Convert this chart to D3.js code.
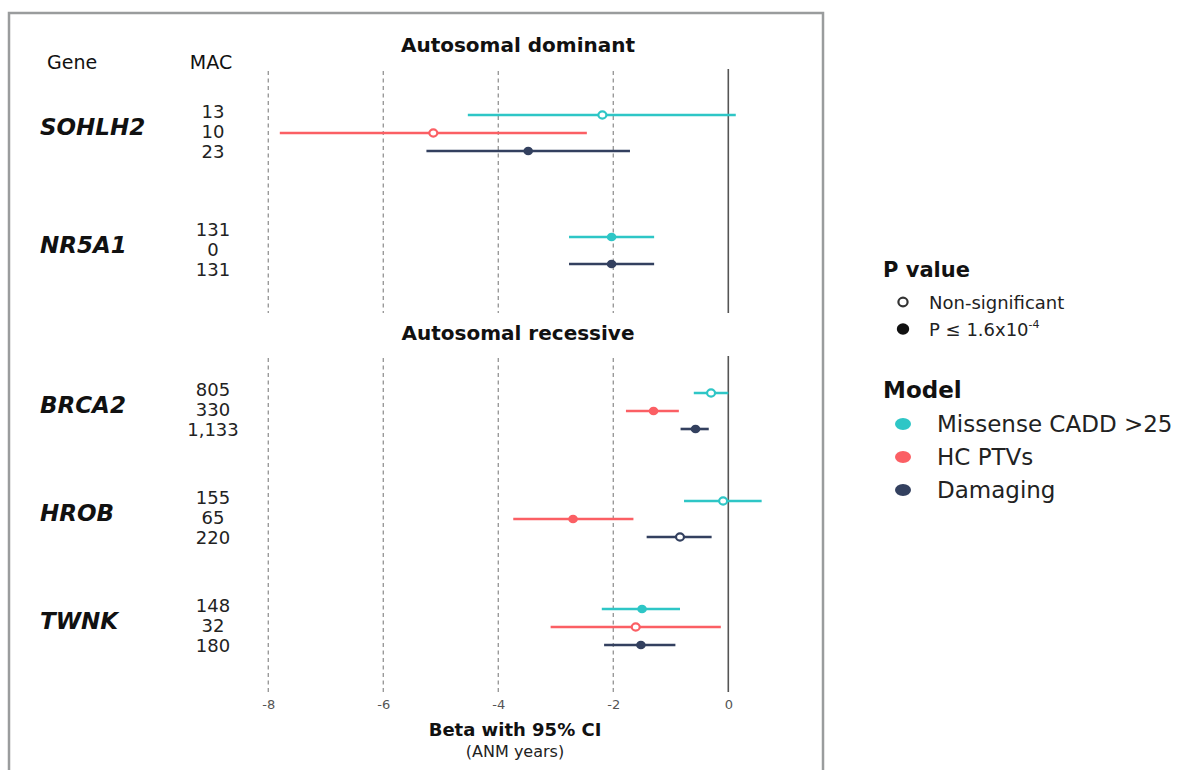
<!DOCTYPE html>
<html>
<head>
<meta charset="utf-8">
<script src="https://cdn.jsdelivr.net/npm/d3@7"></script>
<style>
  body { margin: 0; background: #fff; }
  svg { display: block; font-family: "DejaVu Sans", sans-serif; }
</style>
</head>
<body>
<svg id="chart" width="1195" height="770"></svg>
<script>
// ---- data -------------------------------------------------------------
const genes = ["SOHLH2", "NR5A1", "BRCA2", "HROB", "TWNK"];
const inheritance = ["Autosomal dominant", "Autosomal dominant",
                     "Autosomal recessive", "Autosomal recessive", "Autosomal recessive"];
const panels = ["Autosomal dominant", "Autosomal recessive"];

const models = ["Missense CADD >25", "HC PTVs", "Damaging"];
const modelColors = ["#2ec6c6", "#fb5f64", "#33405f"];

// minor allele counts per gene, one list per model
const macMissense = [13, 131, 805, 155, 148];
const macPTV      = [10, 0, 330, 65, 32];
const macDamaging = [23, 131, 1133, 220, 180];

// effect estimates (ANM years) with 95% CI; null = not tested
const betaMissense  = [-2.19, -2.03, -0.30, -0.09, -1.50];
const lowerMissense = [-4.53, -2.77, -0.60, -0.77, -2.20];
const upperMissense = [ 0.13, -1.29,  0.00,  0.58, -0.84];
const sigMissense   = [false, true, false, false, true];

const betaPTV  = [-5.13, null, -1.30, -2.70, -1.61];
const lowerPTV = [-7.80, null, -1.78, -3.74, -3.09];
const upperPTV = [-2.46, null, -0.86, -1.65, -0.13];
const sigPTV   = [false, null, true, true, false];

const betaDamaging  = [-3.48, -2.03, -0.57, -0.84, -1.52];
const lowerDamaging = [-5.25, -2.77, -0.83, -1.42, -2.16];
const upperDamaging = [-1.71, -1.29, -0.34, -0.29, -0.92];
const sigDamaging   = [true, true, true, false, true];

const xTicks = [-8, -6, -4, -2, 0];
const pLegend = ["Non-significant", "P \u2264 1.6x10"];
const pLegendSup = ["", "-4"];

// ---- assemble rows ----------------------------------------------------
const macByModel = [macMissense, macPTV, macDamaging];
const betaByModel = [betaMissense, betaPTV, betaDamaging];
const lowerByModel = [lowerMissense, lowerPTV, lowerDamaging];
const upperByModel = [upperMissense, upperPTV, upperDamaging];
const sigByModel = [sigMissense, sigPTV, sigDamaging];

const rows = [];
genes.forEach((g, gi) => {
  const present = models.map((m, mi) => mi).filter(mi => betaByModel[mi][gi] !== null);
  present.forEach((mi, k) => {
    rows.push({
      gene: g, panel: inheritance[gi], model: models[mi], color: modelColors[mi],
      beta: betaByModel[mi][gi], lo: lowerByModel[mi][gi], hi: upperByModel[mi][gi],
      sig: sigByModel[mi][gi], slot: k, nSlots: present.length
    });
  });
});

// ---- layout -----------------------------------------------------------
const svg = d3.select("#chart");
svg.append("rect").attr("width", 1195).attr("height", 770).attr("fill", "#fff");

const x = d3.scaleLinear().domain([-8, 0]).range([268.3, 728.3]);

const panelLayout = {
  "Autosomal dominant":  { top: 71,  bottom: 313, rows: [133, 250.5], titleY: 52 },
  "Autosomal recessive": { top: 358, bottom: 692, rows: [411, 627],   titleY: 340 }
};
const dodgeWidth = 54;

// frame around plot area
svg.append("rect")
  .attr("x", 9).attr("y", 13).attr("width", 814).attr("height", 820)
  .attr("fill", "none").attr("stroke", "#9a9c9d").attr("stroke-width", 2.5);

// column headers
svg.append("text").attr("x", 47).attr("y", 69)
  .attr("font-size", 19).attr("fill", "#111").text("Gene");
svg.append("text").attr("x", 211).attr("y", 69).attr("text-anchor", "middle")
  .attr("font-size", 19).attr("fill", "#111").text("MAC");

panels.forEach(p => {
  const L = panelLayout[p];
  const pg = genes.filter((g, i) => inheritance[i] === p);
  const y = d3.scalePoint().domain(pg).range(L.rows);

  const g = svg.append("g");

  // panel title
  g.append("text").attr("x", 518).attr("y", L.titleY).attr("text-anchor", "middle")
    .attr("font-size", 20).attr("font-weight", "bold").attr("fill", "#111").text(p);

  // reference lines
  g.selectAll("line.grid").data(xTicks.filter(t => t !== 0)).join("line")
    .attr("x1", d => x(d)).attr("x2", d => x(d))
    .attr("y1", L.top).attr("y2", L.bottom)
    .attr("stroke", "#9a9a9a").attr("stroke-width", 1.4).attr("stroke-dasharray", "4,3.5");
  g.append("line")
    .attr("x1", x(0)).attr("x2", x(0)).attr("y1", L.top - 2).attr("y2", L.bottom)
    .attr("stroke", "#555").attr("stroke-width", 1.6);

  // gene labels and MAC counts
  pg.forEach(gene => {
    const gi = genes.indexOf(gene);
    const cy = y(gene);
    g.append("text").attr("x", 40).attr("y", cy + 2)
      .attr("font-size", 23).attr("font-weight", "bold").attr("font-style", "italic")
      .attr("fill", "#111").text(gene);
    macByModel.forEach((arr, mi) => {
      g.append("text").attr("x", 213).attr("y", cy - 1 + (mi - 1) * 20)
        .attr("dy", "0.36em").attr("text-anchor", "middle")
        .attr("font-size", 18).attr("fill", "#222")
        .text(d3.format(",")(arr[gi]));
    });
  });

  // confidence intervals and point estimates
  const pr = rows.filter(r => r.panel === p);
  const rowY = r => y(r.gene) + (r.slot - (r.nSlots - 1) / 2) * (dodgeWidth / r.nSlots);
  g.selectAll("line.ci").data(pr).join("line")
    .attr("x1", d => x(d.lo)).attr("x2", d => x(d.hi))
    .attr("y1", rowY).attr("y2", rowY)
    .attr("stroke", d => d.color).attr("stroke-width", 2.6);
  g.selectAll("ellipse.pt").data(pr).join("ellipse")
    .attr("cx", d => x(d.beta)).attr("cy", rowY)
    .attr("rx", d => d.sig ? 4.8 : 4.0).attr("ry", d => d.sig ? 4.3 : 3.6)
    .attr("fill", d => d.sig ? d.color : "#fff")
    .attr("stroke", d => d.color).attr("stroke-width", d => d.sig ? 0 : 2.2);
});

// x axis
const axis = svg.append("g").attr("transform", "translate(0,692)")
  .call(d3.axisBottom(x).tickValues(xTicks).tickSize(0).tickPadding(8).tickFormat(d3.format("d")));
axis.select(".domain").remove();
axis.selectAll("text").attr("font-size", 13).attr("fill", "#555")
  .attr("font-family", "DejaVu Sans, sans-serif")
  .text(d => d < 0 ? "-" + Math.abs(d) : d);

svg.append("text").attr("x", 515).attr("y", 736).attr("text-anchor", "middle")
  .attr("font-size", 18).attr("font-weight", "bold").attr("fill", "#111").text("Beta with 95% CI");
svg.append("text").attr("x", 515).attr("y", 757).attr("text-anchor", "middle")
  .attr("font-size", 16).attr("fill", "#222").text("(ANM years)");

// ---- legends ----------------------------------------------------------
const lg = svg.append("g");
lg.append("text").attr("x", 883).attr("y", 277)
  .attr("font-size", 21).attr("font-weight", "bold").attr("fill", "#111").text("P value");
pLegend.forEach((lbl, i) => {
  const yy = 302 + i * 27;
  lg.append("ellipse").attr("cx", 903).attr("cy", yy)
    .attr("rx", i ? 6.2 : 4.6).attr("ry", i ? 5.8 : 4.3)
    .attr("fill", i ? "#111" : "#fff").attr("stroke", i ? "none" : "#333").attr("stroke-width", 2.2);
  const t = lg.append("text").attr("x", 929).attr("y", yy + 6.5)
    .attr("font-size", 18).attr("fill", "#222").text(lbl);
  if (pLegendSup[i]) {
    t.append("tspan").attr("dy", -8).attr("font-size", 11).text(pLegendSup[i]);
  }
});

lg.append("text").attr("x", 883).attr("y", 398)
  .attr("font-size", 23).attr("font-weight", "bold").attr("fill", "#111").text("Model");
models.forEach((m, i) => {
  const yy = 424 + i * 33;
  lg.append("ellipse").attr("cx", 903).attr("cy", yy).attr("rx", 8).attr("ry", 6)
    .attr("fill", modelColors[i]);
  lg.append("text").attr("x", 937).attr("y", yy + 8)
    .attr("font-size", 23).attr("fill", "#222").text(m);
});
</script>
</body>
</html>
